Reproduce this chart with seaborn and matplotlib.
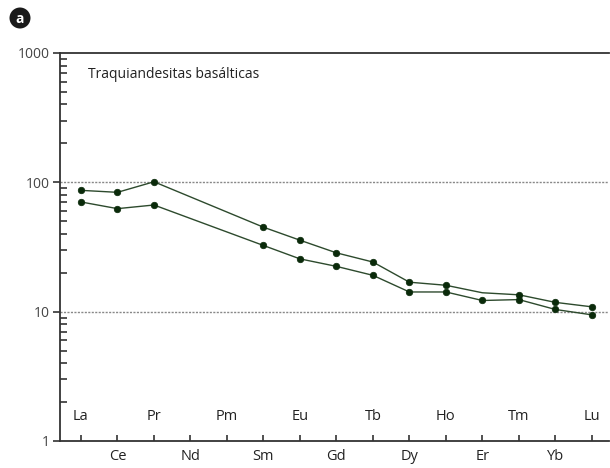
import matplotlib
matplotlib.use("Agg")
import matplotlib.pyplot as plt
import seaborn as sns
import numpy as np
import pandas as pd
from matplotlib.ticker import LogLocator, NullFormatter, FixedLocator

elements = ["La", "Ce", "Pr", "Nd", "Pm", "Sm", "Eu", "Gd", "Tb", "Dy", "Ho", "Er", "Tm", "Yb", "Lu"]
upper = [86.7, 83.7, 101, None, None, 45, 35.7, 28.5, 24.2, 16.9, 16.0, 14.0, 13.5, 11.8, 10.9]
lower = [70.5, 62.6, 66.8, None, None, 32.5, 25.6, 22.4, 19.1, 14.2, 14.2, 12.2, 12.4, 10.4, 9.45]
upper_marked = [True, True, True, False, False, True, True, True, True, True, True, False, True, True, True]
lower_marked = [True, True, True, False, False, True, True, True, True, True, True, True, True, True, True]
title_text = "Traquiandesitas basálticas"
panel_label = "a"
y_ticks = [1, 10, 100, 1000]

sns.set_theme(style="white")
plt.rcParams['font.family'] = ['Open Sans', 'DejaVu Sans']

fig = plt.figure(figsize=(6.1, 4.68), dpi=100)
ax = fig.add_axes([60/610, 1 - 441/468, 549/610, (441 - 53)/468])

line_color = "#2d4a2d"
mk_color = "#0a2a0a"
for vals, marks in [(upper, upper_marked), (lower, lower_marked)]:
    df = pd.DataFrame({"x": np.arange(len(elements)), "y": vals, "m": marks}).dropna()
    sns.lineplot(data=df, x="x", y="y", ax=ax, color=line_color, lw=1.0, estimator=None, sort=False)
    dm = df[df["m"]]
    sns.scatterplot(data=dm, x="x", y="y", ax=ax, color=mk_color, s=22, edgecolor=mk_color, linewidth=0.5, zorder=5)

ax.set_yscale("log")
ax.set_ylim(1, 1000)
ax.set_xlim(-0.575, 14.47)
ax.set_xlabel("")
ax.set_ylabel("")

for v in [10, 100]:
    ax.axhline(v, color="#888888", lw=1.0, ls=(0, (1.5, 1)), zorder=1)

for s in ["left", "bottom", "top"]:
    ax.spines[s].set_visible(True)
    ax.spines[s].set_color("#333333")
    ax.spines[s].set_linewidth(1.3)
ax.spines["right"].set_visible(False)

ax.yaxis.set_major_locator(FixedLocator(y_ticks))
ax.set_yticklabels([str(t) for t in y_ticks], fontsize=10, color="#444444")
ax.yaxis.set_minor_locator(LogLocator(base=10, subs=np.arange(2, 10)))
ax.yaxis.set_minor_formatter(NullFormatter())
ax.tick_params(axis="y", which="major", direction="out", length=5, width=1.2, color="#333333", left=True, pad=2)
ax.tick_params(axis="y", which="minor", direction="in", length=5, width=1.2, color="#333333", left=True)

ax.set_xticks(np.arange(len(elements)))
ax.set_xticklabels([])
ax.tick_params(axis="x", which="major", direction="in", length=4, width=1.2, color="#333333", bottom=True)
ax.tick_params(axis="x", which="minor", bottom=False)

for i, el in enumerate(elements):
    if i % 2 == 0:
        ax.annotate(el, xy=(i, 0), xycoords=("data", "axes fraction"), xytext=(0, 12),
                    textcoords="offset points", ha="center", va="bottom", fontsize=10.5, color="#222222")
    else:
        ax.annotate(el, xy=(i, 0), xycoords=("data", "axes fraction"), xytext=(0, -6),
                    textcoords="offset points", ha="center", va="top", fontsize=10.5, color="#222222")

ax.text(88/610, 1 - 75/468, title_text, transform=fig.transFigure, fontsize=10, color="#222222",
        ha="left", va="center")

fig.patches.append(matplotlib.patches.Ellipse((20/610, 1 - 18/468), 21/610, 21/468, transform=fig.transFigure,
                                              facecolor="#1a1a1a", edgecolor="none"))
fig.text(20/610, 1 - 19/468, panel_label, fontsize=10, color="white", fontweight="bold", ha="center", va="center")

fig.savefig("out.png", dpi=100)
